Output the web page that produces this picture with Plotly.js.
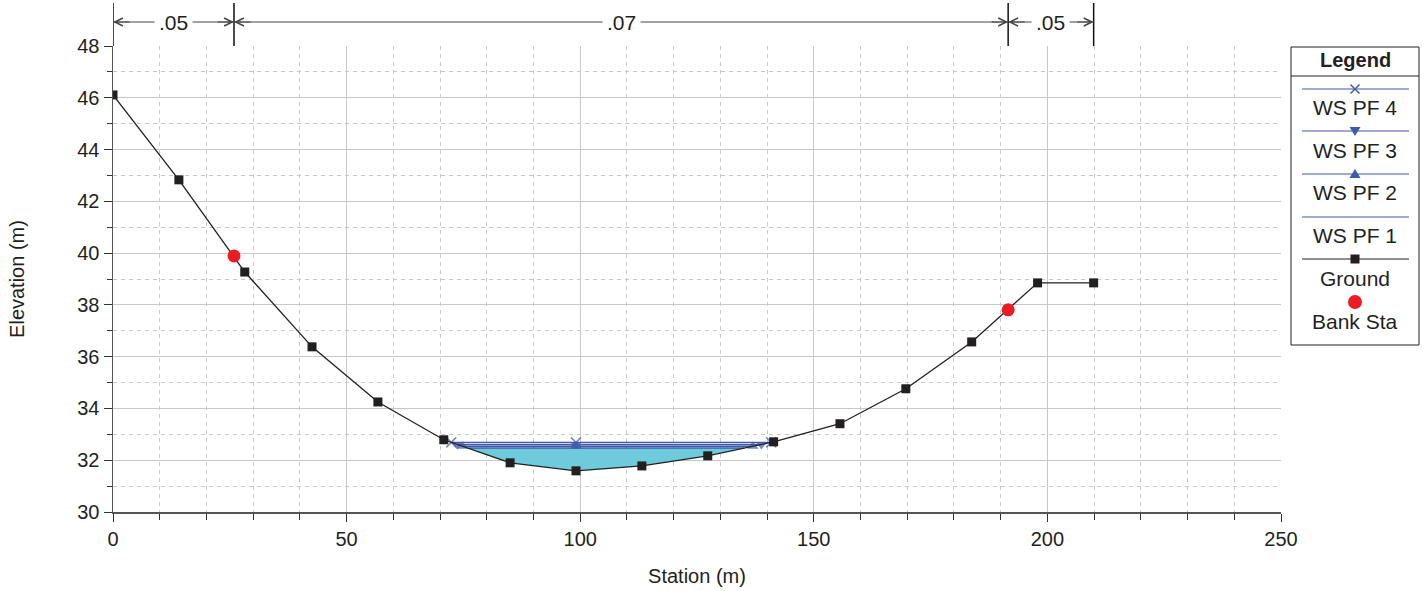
<!DOCTYPE html>
<html>
<head>
<meta charset="utf-8">
<script src="https://cdn.plot.ly/plotly-3.0.1.min.js"></script>
<style>html,body{margin:0;padding:0;background:#fff;}#chart{width:1428px;height:591px;}</style>
</head>
<body>
<div id="chart"></div>
<script>
// ---- Data ----
const station   = [0, 14.1, 28.2, 42.6, 56.7, 70.8, 85.0, 99.1, 113.2, 127.3, 141.4, 155.6, 169.7, 183.8, 197.9, 209.9];
const elevation = [46.11, 42.83, 39.27, 36.38, 34.25, 32.79, 31.90, 31.59, 31.78, 32.17, 32.71, 33.41, 34.76, 36.57, 38.85, 38.85];
const bankStation   = [25.9, 191.6];
const bankElevation = [39.89, 37.81];
const nStations = [0, 25.9, 191.6, 209.9];
const nValues   = ['.05', '.07', '.05'];
const wsNames   = ['WS PF 4', 'WS PF 3', 'WS PF 2', 'WS PF 1'];
const wsElev    = [32.69, 32.61, 32.54, 32.47];
const wsSymbols = ['x-thin-open', 'triangle-down', 'triangle-up', null];

const WS_COLOR = '#3f5aa8';
const FILL_COLOR = '#6dcbdc';
const INK = '#231f20';
const FONT = 'Liberation Sans, Arial, sans-serif';

// intersect a water level with the ground profile around its lowest point
function wsProfile(w) {
  let iMin = 0;
  for (let i = 1; i < elevation.length; i++) if (elevation[i] < elevation[iMin]) iMin = i;
  let l = iMin; while (l > 0 && elevation[l - 1] < w) l--;
  let r = iMin; while (r < elevation.length - 1 && elevation[r + 1] < w) r++;
  const xl = station[l - 1] + (w - elevation[l - 1]) * (station[l] - station[l - 1]) / (elevation[l] - elevation[l - 1]);
  const xr = station[r] + (w - elevation[r]) * (station[r + 1] - station[r]) / (elevation[r + 1] - elevation[r]);
  const inner = [];
  for (let i = l; i <= r; i++) inner.push(i);
  return { xl, xr, inner, iMin };
}

const traces = [];
// water fill (lowest profile)
{
  const w = Math.min(...wsElev);
  const p = wsProfile(w);
  const xs = [p.xl], ys = [w];
  p.inner.forEach(i => { xs.push(station[i]); ys.push(elevation[i]); });
  xs.push(p.xr, p.xl); ys.push(w, w);
  traces.push({ x: xs, y: ys, type: 'scatter', mode: 'lines', fill: 'toself', fillcolor: FILL_COLOR,
    line: { width: 0 }, hoverinfo: 'skip', showlegend: false });
}
// water surface lines
wsElev.forEach((w, k) => {
  const p = wsProfile(w);
  const xs = [p.xl], sizes = [1];
  p.inner.forEach(i => { xs.push(station[i]); sizes.push(i === p.iMin ? 1 : 0); });
  xs.push(p.xr); sizes.push(1);
  const ys = xs.map(() => w);
  const sym = wsSymbols[k];
  const tr = { x: xs, y: ys, type: 'scatter', mode: sym ? 'lines+markers' : 'lines', name: wsNames[k],
    line: { color: WS_COLOR, width: 1.4 }, showlegend: false };
  if (sym) {
    tr.marker = { symbol: sym, size: sizes.map(s => s ? 10 : 0), color: WS_COLOR,
      line: { color: WS_COLOR, width: sym === 'x-thin-open' ? 1.6 : 0 } };
  }
  traces.push(tr);
});
// ground
traces.push({ x: station, y: elevation, type: 'scatter', mode: 'lines+markers', name: 'Ground',
  line: { color: INK, width: 1.3 }, marker: { symbol: 'square', size: 9, color: INK }, showlegend: false });
// bank stations
traces.push({ x: bankStation, y: bankElevation, type: 'scatter', mode: 'markers', name: 'Bank Sta',
  marker: { symbol: 'circle', size: 13, color: '#ec1c24' }, showlegend: false });

// ---- layout helpers (pixel -> paper) ----
const ML = 113, MR = 147, MT = 46, MB = 79, W = 1428, H = 591;
const PW = W - ML - MR, PH = H - MT - MB;
const PX = px => (px - ML) / PW;
const PY = py => 1 - (py - MT) / PH;

const shapes = [], annotations = [];

// Manning's n dimension markers
const dimY = PY(22);
nStations.forEach(s => shapes.push({ type: 'line', xref: 'x', yref: 'paper', x0: s, x1: s, y0: 1, y1: PY(3),
  line: { color: '#111', width: 1.5 } }));
for (let i = 0; i < nValues.length; i++) {
  const a = nStations[i], b = nStations[i + 1];
  shapes.push({ type: 'line', xref: 'x', yref: 'paper', x0: a, x1: b, y0: dimY, y1: dimY, line: { color: '#444', width: 1 } });
  annotations.push({ xref: 'x', yref: 'paper', x: a, y: dimY, ax: 18, ay: 0, text: '', showarrow: true,
    arrowhead: 5, arrowsize: 1.6, arrowwidth: 1, arrowcolor: '#444', standoff: 0 });
  annotations.push({ xref: 'x', yref: 'paper', x: b, y: dimY, ax: -18, ay: 0, text: '', showarrow: true,
    arrowhead: 5, arrowsize: 1.6, arrowwidth: 1, arrowcolor: '#444', standoff: 0 });
}
for (let i = 0; i < nValues.length; i++) {
  const a = nStations[i], b = nStations[i + 1];
  annotations.push({ xref: 'x', yref: 'paper', x: (a + b) / 2, y: dimY, text: nValues[i], showarrow: false,
    bgcolor: '#fff', borderpad: 4, font: { family: FONT, size: 21, color: INK }, xanchor: 'center', yanchor: 'middle' });
}

// ---- custom legend ----
const LX0 = 1291, LX1 = 1419, LY0 = 47, LY1 = 345, LSEP = 76, LLX0 = 1302, LLX1 = 1409, LCX = 1355;
shapes.push({ type: 'rect', xref: 'paper', yref: 'paper', x0: PX(LX0), x1: PX(LX1), y0: PY(LY0), y1: PY(LY1),
  line: { color: '#222', width: 1 }, fillcolor: 'rgba(0,0,0,0)' });
shapes.push({ type: 'line', xref: 'paper', yref: 'paper', x0: PX(LX0), x1: PX(LX1), y0: PY(LSEP), y1: PY(LSEP),
  line: { color: '#222', width: 1 } });
annotations.push({ xref: 'paper', yref: 'paper', x: PX(LCX), y: PY(60), text: '<b>Legend</b>', showarrow: false,
  font: { family: FONT, size: 20, color: INK }, xanchor: 'center', yanchor: 'middle' });

const legLabels = wsNames.concat(['Ground', 'Bank Sta']);
const lineY = [89, 131, 174, 217, 259];
const textY = [107, 150, 192, 235, 278, 321];
lineY.forEach((y, i) => {
  shapes.push({ type: 'line', xref: 'paper', yref: 'paper', x0: PX(LLX0), x1: PX(LLX1), y0: PY(y), y1: PY(y),
    line: { color: i < 4 ? WS_COLOR : INK, width: 1.2 } });
});
function pathPx(pts) {
  return 'M' + pts.map(p => PX(p[0]) + ',' + PY(p[1])).join(' L') + ' Z';
}
// PF4 x
shapes.push({ type: 'line', xref: 'paper', yref: 'paper', x0: PX(LCX - 4.5), x1: PX(LCX + 4.5), y0: PY(89 - 4.5), y1: PY(89 + 4.5), line: { color: WS_COLOR, width: 1.5 } });
shapes.push({ type: 'line', xref: 'paper', yref: 'paper', x0: PX(LCX - 4.5), x1: PX(LCX + 4.5), y0: PY(89 + 4.5), y1: PY(89 - 4.5), line: { color: WS_COLOR, width: 1.5 } });
// PF3 down triangle
shapes.push({ type: 'path', xref: 'paper', yref: 'paper', path: pathPx([[LCX - 5.5, 131 - 4], [LCX + 5.5, 131 - 4], [LCX, 131 + 5]]), fillcolor: WS_COLOR, line: { width: 0 } });
// PF2 up triangle
shapes.push({ type: 'path', xref: 'paper', yref: 'paper', path: pathPx([[LCX - 5.5, 174 + 4], [LCX + 5.5, 174 + 4], [LCX, 174 - 5]]), fillcolor: WS_COLOR, line: { width: 0 } });
// Ground square
shapes.push({ type: 'rect', xref: 'paper', yref: 'paper', x0: PX(LCX - 4.5), x1: PX(LCX + 4.5), y0: PY(259 - 4.5), y1: PY(259 + 4.5), fillcolor: INK, line: { width: 0 } });
// Bank circle
shapes.push({ type: 'circle', xref: 'paper', yref: 'paper', x0: PX(LCX - 7), x1: PX(LCX + 7), y0: PY(302 - 7), y1: PY(302 + 7), fillcolor: '#ec1c24', line: { width: 0 } });

legLabels.forEach((t, i) => annotations.push({ xref: 'paper', yref: 'paper', x: PX(LCX), y: PY(textY[i]), text: t,
  showarrow: false, font: { family: FONT, size: 21, color: INK }, xanchor: 'center', yanchor: 'middle' }));

const gridC = '#c8c8c8';
const axisCommon = {
  showgrid: true, gridcolor: gridC, gridwidth: 1, zeroline: false,
  ticks: 'outside', ticklen: 8, tickwidth: 1, tickcolor: '#333',
  showline: true, linecolor: '#555', linewidth: 1.5,
  tickfont: { family: FONT, size: 20, color: INK },
};
const layout = {
  width: W, height: H,
  margin: { l: ML, r: MR, t: MT, b: MB, pad: 0 },
  paper_bgcolor: '#fff', plot_bgcolor: '#fff',
  font: { family: FONT, color: INK },
  showlegend: false,
  xaxis: Object.assign({}, axisCommon, {
    range: [0, 250], tick0: 0, dtick: 50,
    minor: { dtick: 10, ticks: 'outside', ticklen: 6, tickcolor: '#333', showgrid: true, gridcolor: gridC, griddash: '4px,4px', gridwidth: 1 },
    title: { text: 'Station (m)', font: { family: FONT, size: 20, color: INK }, standoff: 20 }
  }),
  yaxis: Object.assign({}, axisCommon, {
    range: [30, 48], tick0: 30, dtick: 2,
    minor: { dtick: 1, ticks: 'outside', ticklen: 5, tickcolor: '#333', showgrid: true, gridcolor: gridC, griddash: '4px,4px', gridwidth: 1 },
    title: { text: 'Elevation (m)', font: { family: FONT, size: 20, color: INK }, standoff: 47 }
  }),
  shapes, annotations
};
Plotly.newPlot('chart', traces, layout, { displayModeBar: false, staticPlot: true });
</script>
</body>
</html>
